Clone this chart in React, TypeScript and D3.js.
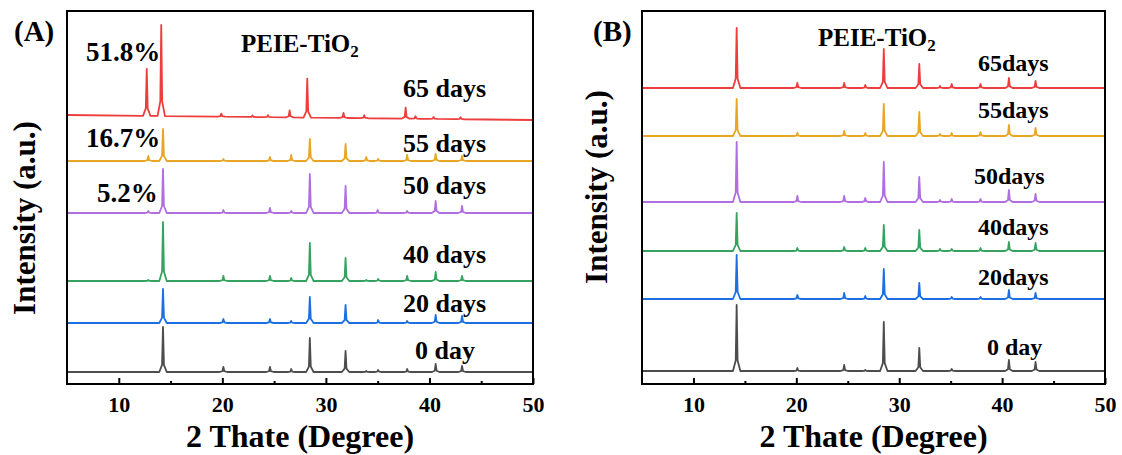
import React, { useEffect, useRef } from 'react';
import * as d3 from 'd3';

// 2-theta axis
const xDomain = [5, 50];
const majorTicks = [10, 20, 30, 40, 50];
const minorTicks = [15, 25, 35, 45];

const seriesColors = ['#ee3d3d', '#e8a624', '#b06ee0', '#35a35f', '#1b6fe3', '#4d4d4d'];

// panel A: stacked patterns (peak position in degrees, intensity in a.u.)
const labelsA = ['65 days', '55 days', '50 days', '40 days', '20 days', '0 day'];
const offsetsA = [269, 223, 171, 103, 61, 12];
const driftA = [-5, 0, 0, 0, 0, 0];
const peaksA65 = [[12.7, 47], [14.1, 91], [19.9, 3], [22.9, 1.5], [24.4, 2], [26.5, 7], [28.2, 39], [31.7, 5], [33.7, 3], [37.7, 11], [38.65, 2.5], [40.4, 2], [43.0, 2]];
const peaksA55 = [[12.85, 5], [14.27, 32], [20.1, 2], [24.6, 4], [26.65, 6], [28.45, 22], [31.9, 17], [33.9, 4], [35.05, 2], [37.85, 6], [40.6, 7], [43.15, 5]];
const peaksA50 = [[12.85, 2], [14.27, 44], [20.1, 3], [24.6, 5], [26.65, 2], [28.45, 39], [31.9, 27], [35.0, 3], [37.85, 2], [40.6, 12], [43.15, 7]];
const peaksA40 = [[12.85, 1], [14.27, 59], [20.1, 5], [24.6, 5], [26.65, 3], [28.45, 38], [31.9, 23], [33.9, 1], [35.05, 2], [37.85, 5], [40.6, 9], [43.15, 5]];
const peaksA20 = [[14.27, 34], [20.1, 4], [24.6, 4], [26.65, 2], [28.45, 26], [31.9, 18], [35.05, 3], [37.85, 2], [40.6, 8], [43.15, 7]];
const peaksA0 = [[14.27, 45], [20.1, 5], [24.6, 5], [26.65, 3], [28.45, 34], [31.9, 21], [33.9, 1], [35.05, 2], [37.85, 3], [40.6, 8], [43.15, 6]];
const percentLabels = ['51.8%', '16.7%', '5.2%'];

// panel B
const labelsB = ['65days', '55days', '50days', '40days', '20days', '0 day'];
const offsetsB = [296, 248, 182, 133, 85, 13];
const driftB = [0, 0, 0, 0, 0, 0];
const peaksB65 = [[14.2, 60], [20.1, 5], [24.65, 5], [26.7, 3], [28.5, 39], [31.95, 24], [33.96, 2], [35.1, 4], [37.9, 4], [40.66, 10], [43.25, 7]];
const peaksB55 = [[14.2, 37], [20.1, 3], [24.65, 5], [26.7, 3], [28.5, 32], [31.95, 24], [33.96, 2], [35.1, 3], [37.9, 4], [40.66, 11], [43.25, 8]];
const peaksB50 = [[14.2, 60], [20.1, 6], [24.65, 6], [26.7, 4], [28.5, 40], [31.95, 25], [33.96, 2], [35.1, 3], [37.9, 3], [40.66, 12], [43.25, 8]];
const peaksB40 = [[14.2, 38], [20.1, 3], [24.65, 4], [26.7, 3], [28.5, 26], [31.95, 21], [33.96, 2], [35.1, 2], [37.9, 3], [40.66, 9], [43.25, 8]];
const peaksB20 = [[14.2, 44], [20.1, 4], [24.65, 6], [26.7, 3], [28.5, 30], [31.95, 16], [35.1, 2], [37.9, 2], [40.66, 9], [43.25, 6]];
const peaksB0 = [[14.2, 66], [20.1, 3], [24.65, 6], [26.7, 1], [28.5, 49], [31.95, 23], [35.1, 2], [40.66, 11], [43.25, 9]];

const FONT = '"Liberation Serif", "Times New Roman", serif';
const TOP = 11;
const BOTTOM = 384;

// turn a peak list into a polyline: flat baseline with narrow spikes
const buildPoints = (peaks, offset, drift) => {
  const base = (t) => offset + drift * (t - xDomain[0]) / (xDomain[1] - xDomain[0]);
  const pts = [[xDomain[0], base(xDomain[0])]];
  const w = 0.36;
  peaks.forEach(([p, h]) => {
    pts.push([p - w, base(p - w)]);
    pts.push([p - w / 4, base(p) + h * 0.16]);
    pts.push([p, base(p) + h]);
    pts.push([p + w / 4, base(p) + h * 0.16]);
    pts.push([p + w, base(p + w)]);
  });
  pts.push([xDomain[1], base(xDomain[1])]);
  return pts;
};

const Panel = ({ left, right, series, offsets, drifts, labels, labelPos, title, letter, letterX, yTitleX, yTitleY, extra }) => {
  const axisRef = useRef(null);
  const x = d3.scaleLinear().domain(xDomain).range([left, right]);
  const y = d3.scaleLinear().domain([0, BOTTOM - TOP]).range([BOTTOM, TOP]);
  const line = d3.line().x((d) => x(d[0])).y((d) => y(d[1]));

  useEffect(() => {
    const g = d3.select(axisRef.current);
    g.selectAll('*').remove();
    const major = g.append('g').call(d3.axisBottom(x).tickValues(majorTicks).tickSize(-6).tickPadding(12));
    major.select('.domain').remove();
    major.selectAll('line').attr('stroke', '#000').attr('stroke-width', 2);
    major.selectAll('text')
      .attr('font-family', FONT)
      .attr('font-weight', 'bold')
      .attr('font-size', 22)
      .attr('fill', '#000');
    const minor = g.append('g').call(d3.axisBottom(x).tickValues(minorTicks).tickSize(-3).tickFormat(() => ''));
    minor.select('.domain').remove();
    minor.selectAll('line').attr('stroke', '#000').attr('stroke-width', 2);
  }, []);

  return (
    <g>
      {series.map((peaks, i) => (
        <path
          key={i}
          d={line(buildPoints(peaks, offsets[i], drifts[i]))}
          fill="none"
          stroke={seriesColors[i]}
          strokeWidth={1.8}
          strokeLinejoin="round"
        />
      ))}
      <rect x={left} y={TOP} width={right - left} height={BOTTOM - TOP} fill="none" stroke="#000" strokeWidth={2} />
      <g ref={axisRef} transform={`translate(0,${BOTTOM})`} />
      {labels.map((t, i) => (
        <text key={t} x={labelPos[i][0]} y={labelPos[i][1]} fontFamily={FONT} fontWeight="bold" fontSize={labelPos[i][2]}>
          {t}
        </text>
      ))}
      <text x={title[0]} y={title[1]} fontFamily={FONT} fontWeight="bold" fontSize={25}>
        PEIE-TiO<tspan fontSize={17} dy={5}>2</tspan>
      </text>
      <text x={letterX} y={41} fontFamily={FONT} fontWeight="bold" fontSize={29}>{letter}</text>
      <text
        transform={`translate(${yTitleX},${yTitleY}) rotate(-90)`}
        textAnchor="middle"
        fontFamily={FONT}
        fontWeight="bold"
        fontSize={31}
      >
        Intensity (a.u.)
      </text>
      <text x={(left + right) / 2} y={447} textAnchor="middle" fontFamily={FONT} fontWeight="bold" fontSize={32}>
        2 Thate (Degree)
      </text>
      {extra}
    </g>
  );
};

const App = () => {
  return (
    <svg width={1122} height={455} style={{ position: 'absolute', left: 0, top: 0, background: '#fff' }}>
      <Panel
        left={67}
        right={533}
        series={[peaksA65, peaksA55, peaksA50, peaksA40, peaksA20, peaksA0]}
        offsets={offsetsA}
        drifts={driftA}
        labels={labelsA}
        labelPos={[[403, 97, 26], [403, 152, 26], [403, 194, 26], [403, 263, 26], [403, 312, 26], [415, 359, 26]]}
        title={[241, 52]}
        letter="(A)"
        letterX={14}
        yTitleX={35}
        yTitleY={218}
        extra={
          <g>
            {percentLabels.map((t, i) => (
              <text key={t} x={[86, 86, 97][i]} y={[61, 147, 202][i]} fontFamily={FONT} fontWeight="bold" fontSize={27}>
                {t}
              </text>
            ))}
          </g>
        }
      />
      <Panel
        left={642}
        right={1105}
        series={[peaksB65, peaksB55, peaksB50, peaksB40, peaksB20, peaksB0]}
        offsets={offsetsB}
        drifts={driftB}
        labels={labelsB}
        labelPos={[[978, 71, 24], [978, 118, 24], [974, 184, 24], [978, 235, 24], [978, 285, 24], [987, 355, 24]]}
        title={[818, 46]}
        letter="(B)"
        letterX={593}
        yTitleX={607}
        yTitleY={187}
      />
    </svg>
  );
};

export default App;
